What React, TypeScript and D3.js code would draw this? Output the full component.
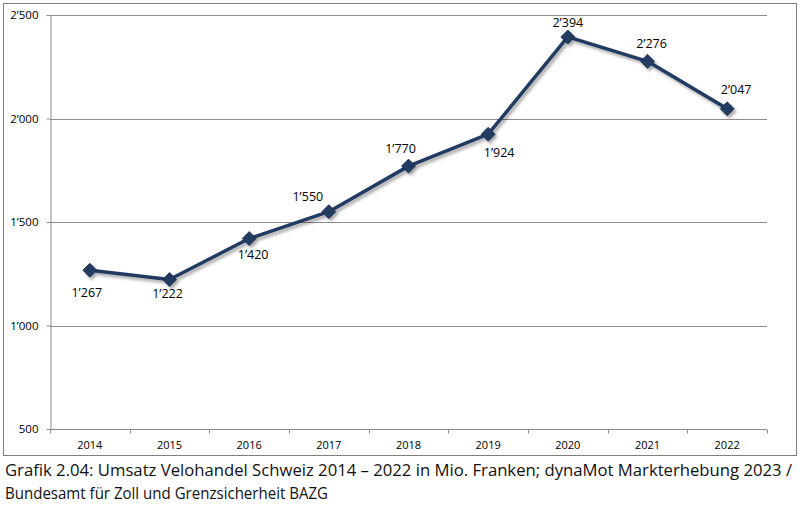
import { useRef, useEffect } from 'react';
import * as d3 from 'd3';

const years = ['2014', '2015', '2016', '2017', '2018', '2019', '2020', '2021', '2022'];
const sales = [1267, 1222, 1420, 1550, 1770, 1924, 2394, 2276, 2047];
const yTicks = [500, 1000, 1500, 2000, 2500];
const captionLines = [
  'Grafik 2.04: Umsatz Velohandel Schweiz 2014 – 2022 in Mio. Franken; dynaMot Markterhebung 2023 /',
  'Bundesamt für Zoll und Grenzsicherheit BAZG'
];

// value labels were nudged by hand in the original, offsets in px from the point
const labelDx = [-3, -2, 4, -21, -8, 11, 0, 4, 9];
const labelDy = [26.5, 18, 20, -10.6, -12.8, 22.5, -10.3, -13.7, -14.8];

const width = 800;
const height = 507;
const lineColor = '#243a61';
const font = '"Open Sans", "Noto Sans", sans-serif';

// 1267 -> 1’267
const fmt = (v: number) => {
  const s = String(v);
  return s.length > 3 ? s.slice(0, s.length - 3) + '\u2019' + s.slice(-3) : s;
};

export default function App() {
  const svgRef = useRef<SVGSVGElement>(null);

  useEffect(() => {
    if (!svgRef.current) return;
    const svg = d3.select(svgRef.current);
    svg.selectAll('*').remove();

    const margin = { top: 15, right: 33, bottom: 78, left: 50 };
    const innerWidth = width - margin.left - margin.right;
    const innerHeight = height - margin.top - margin.bottom;

    const defs = svg.append('defs');
    defs.append('filter')
      .attr('id', 'shadow')
      .attr('x', '-20%').attr('y', '-20%')
      .attr('width', '140%').attr('height', '140%')
      .append('feDropShadow')
      .attr('dx', 2).attr('dy', 2.5)
      .attr('stdDeviation', 1.6)
      .attr('flood-color', '#000')
      .attr('flood-opacity', 0.35);

    // outer frame
    svg.append('rect')
      .attr('x', 3.5).attr('y', 3.5)
      .attr('width', 793).attr('height', 452)
      .attr('fill', 'white')
      .attr('stroke', '#7f7f7f')
      .attr('stroke-width', 1);

    const g = svg.append('g')
      .attr('transform', `translate(${margin.left},${margin.top})`);

    const x = d3.scaleBand().domain(years).range([0, innerWidth]);
    const y = d3.scaleLinear().domain([500, 2500]).range([innerHeight, 0]);

    // gridlines
    g.selectAll('line.grid')
      .data(yTicks.filter(t => t > 500))
      .join('line')
      .attr('class', 'grid')
      .attr('x1', 0).attr('x2', innerWidth)
      .attr('y1', d => Math.round(y(d)) + 0.5).attr('y2', d => Math.round(y(d)) + 0.5)
      .attr('stroke', '#8c8c8c')
      .attr('stroke-width', 1);

    // y axis
    const yAxis = g.append('g')
      .attr('transform', 'translate(0.5,0)')
      .call(d3.axisLeft(y).tickValues(yTicks).tickSize(4).tickSizeOuter(0).tickFormat(d => fmt(d as number)));
    yAxis.select('.domain').attr('stroke', '#8c8c8c');
    yAxis.selectAll('.tick line').attr('stroke', '#8c8c8c');
    yAxis.selectAll('.tick text')
      .attr('x', -12)
      .attr('font-family', font)
      .attr('font-size', 11.5)
      .attr('fill', '#000');

    // x axis with ticks at category boundaries
    const xAxisG = g.append('g').attr('transform', `translate(0,${Math.round(innerHeight) + 0.5})`);
    xAxisG.append('line')
      .attr('x1', 0).attr('x2', innerWidth)
      .attr('stroke', '#8c8c8c');
    xAxisG.selectAll('line.tk')
      .data(d3.range(years.length + 1))
      .join('line')
      .attr('class', 'tk')
      .attr('x1', i => Math.round(i * x.step()) + 0.5)
      .attr('x2', i => Math.round(i * x.step()) + 0.5)
      .attr('y1', 0).attr('y2', 4)
      .attr('stroke', '#8c8c8c');
    xAxisG.selectAll('text')
      .data(years)
      .join('text')
      .attr('x', d => (x(d) ?? 0) + x.bandwidth() / 2)
      .attr('y', 19)
      .attr('text-anchor', 'middle')
      .attr('font-family', font)
      .attr('font-size', 11)
      .attr('fill', '#000')
      .text(d => d);

    // series
    const pts = years.map((yr, i) => ({
      x: (x(yr) ?? 0) + x.bandwidth() / 2,
      y: y(sales[i]),
      v: sales[i],
      dx: labelDx[i],
      dy: labelDy[i]
    }));

    const series = g.append('g').attr('filter', 'url(#shadow)');
    series.append('path')
      .datum(pts)
      .attr('fill', 'none')
      .attr('stroke', lineColor)
      .attr('stroke-width', 3.5)
      .attr('stroke-linejoin', 'round')
      .attr('d', d3.line<{ x: number; y: number }>().x(d => d.x).y(d => d.y));

    const diamond = d3.symbol().type(d3.symbolDiamond2).size(125);
    series.selectAll('path.pt')
      .data(pts)
      .join('path')
      .attr('class', 'pt')
      .attr('transform', d => `translate(${d.x},${d.y})`)
      .attr('d', diamond)
      .attr('fill', lineColor)
      .attr('stroke', '#1c2f50')
      .attr('stroke-width', 0.8);

    g.selectAll('text.lbl')
      .data(pts)
      .join('text')
      .attr('class', 'lbl')
      .attr('x', d => d.x + d.dx)
      .attr('y', d => d.y + d.dy)
      .attr('text-anchor', 'middle')
      .attr('font-family', font)
      .attr('font-size', 12.5)
      .attr('fill', '#000')
      .text(d => fmt(d.v));

    // caption
    svg.selectAll('text.cap')
      .data(captionLines)
      .join('text')
      .attr('class', 'cap')
      .attr('x', 5)
      .attr('y', (_, i) => 476 + i * 23)
      .attr('font-family', font)
      .attr('font-size', 16)
      .attr('fill', '#111')
      .attr('textLength', (_, i) => (i === 0 ? 787 : 323))
      .attr('lengthAdjust', 'spacingAndGlyphs')
      .text(d => d);
  }, []);

  return (
    <svg
      ref={svgRef}
      width={width}
      height={height}
      style={{ display: 'block', position: 'absolute', left: 0, top: 0, background: 'white' }}
    />
  );
}
